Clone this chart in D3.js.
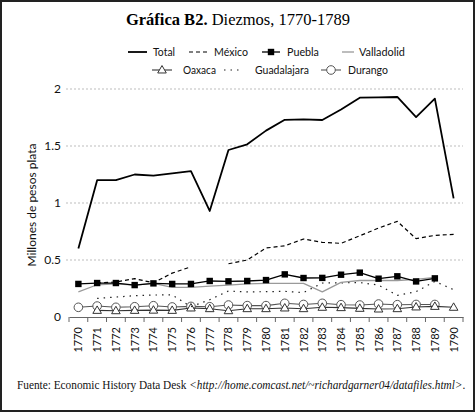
<!doctype html>
<html lang="es">
<head>
<meta charset="utf-8">
<title>Gráfica B2</title>
<script src="https://cdn.jsdelivr.net/npm/d3@7"></script>
<style>
  body { margin: 0; background: #fff; }
  svg { display: block; }
</style>
</head>
<body>
<svg id="chart" width="476" height="413"></svg>
<script>
// years on the x axis
const years = d3.range(1770, 1791).map(String);

// values in millones de pesos plata (null = no data)
const total       = [0.60, 1.20, 1.20, 1.25, 1.24, 1.26, 1.28, 0.93, 1.465, 1.515, 1.635, 1.73, 1.733, 1.728, 1.82, 1.924, 1.926, 1.93, 1.754, 1.915, 1.04];
const mexico      = [null, 0.298, 0.307, 0.336, 0.30, 0.385, 0.44, null, 0.467, 0.50, 0.605, 0.625, 0.684, 0.655, 0.646, 0.713, 0.78, 0.839, 0.687, 0.716, 0.725];
const puebla      = [0.29, 0.298, 0.298, 0.28, 0.295, 0.29, 0.29, 0.316, 0.313, 0.316, 0.324, 0.374, 0.342, 0.343, 0.371, 0.389, 0.336, 0.357, 0.312, 0.339, null];
const valladolid  = [0.22, 0.283, 0.29, 0.28, 0.295, 0.26, 0.26, 0.27, 0.28, 0.29, 0.295, 0.295, 0.295, 0.22, 0.304, 0.32, 0.32, 0.32, 0.33, 0.347, null];
const oaxaca      = [null, 0.058, 0.055, 0.058, 0.06, 0.058, 0.079, 0.073, 0.055, 0.073, 0.073, 0.079, 0.073, 0.085, 0.082, 0.076, 0.07, 0.073, 0.088, 0.093, 0.085];
const guadalajara = [null, 0.163, 0.175, 0.187, 0.193, 0.194, 0.09, 0.152, 0.228, 0.22, 0.222, 0.225, 0.214, 0.298, 0.30, 0.302, 0.28, 0.19, 0.222, 0.312, 0.24];
const durango     = [0.085, 0.096, 0.085, 0.09, 0.099, 0.088, 0.093, 0.09, 0.105, 0.10, 0.10, 0.12, 0.11, 0.12, 0.108, 0.105, 0.114, 0.108, 0.11, 0.11, null];

const yTicks = [0, 0.5, 1, 1.5, 2];
const yTickLabels = ["0", "0.5", "1", "1.5", "2"];

const series = [
  { name: "Total",       values: total,       stroke: "#000", width: 1.8, dash: null,  marker: null },
  { name: "México",      values: mexico,      stroke: "#000", width: 1.2, dash: "4,3", marker: null },
  { name: "Puebla",      values: puebla,      stroke: "#000", width: 1.3, dash: null,  marker: "square" },
  { name: "Valladolid",  values: valladolid,  stroke: "#9a9a9a", width: 1.3, dash: null, marker: null },
  { name: "Oaxaca",      values: oaxaca,      stroke: "#333", width: 1.1, dash: null,  marker: "triangle" },
  { name: "Guadalajara", values: guadalajara, stroke: "#222", width: 1.2, dash: "1.5,5", marker: null },
  { name: "Durango",     values: durango,     stroke: "#555", width: 1.1, dash: null,  marker: "circle" }
];

const svg = d3.select("#chart");
const W = 476, H = 413;
const margin = { top: 89, right: 13, bottom: 96, left: 69 };
const sans = "Lato, 'Open Sans', sans-serif";
const serif = "'Liberation Serif', 'Times New Roman', serif";

// squeeze a text horizontally so it fits a given width
function fitWidth(sel, x0, y0, maxW) {
  const w = sel.node().getComputedTextLength();
  const k = w > maxW ? maxW / w : 1;
  sel.attr("x", 0).attr("y", 0).attr("transform", `translate(${x0},${y0}) scale(${k},1)`);
}

// frame
svg.append("rect")
  .attr("x", 1).attr("y", 1).attr("width", W - 3).attr("height", H - 3)
  .attr("fill", "#fff").attr("stroke", "#222").attr("stroke-width", 2);

const x = d3.scaleBand().domain(years).range([margin.left, W - margin.right]);
const y = d3.scaleLinear().domain([0, 2]).range([H - margin.bottom, margin.top]);
const cx = d => x(d) + x.bandwidth() / 2;

// title
const title = svg.append("text")
  .attr("x", 238).attr("y", 25)
  .attr("text-anchor", "middle")
  .attr("font-family", serif)
  .attr("font-size", 16.5);
title.append("tspan").attr("font-weight", "bold").text("Gráfica B2.");
title.append("tspan").text(" Diezmos, 1770-1789");

// grid lines
svg.append("g")
  .selectAll("line")
  .data(yTicks.slice(1))
  .join("line")
  .attr("x1", margin.left - 3).attr("x2", W - margin.right)
  .attr("y1", d => y(d)).attr("y2", d => y(d))
  .attr("stroke", "#bdbdbd").attr("stroke-width", 1)
  .attr("stroke-dasharray", "2,2");

// y axis labels
svg.append("g")
  .selectAll("text")
  .data(yTicks)
  .join("text")
  .attr("x", 61).attr("y", d => y(d) + 4)
  .attr("text-anchor", "end")
  .attr("font-family", sans)
  .attr("font-size", 12)
  .attr("fill", "#111")
  .text((d, i) => yTickLabels[i]);

svg.append("text")
  .attr("transform", "translate(36,205) rotate(-90)")
  .attr("text-anchor", "middle")
  .attr("font-family", sans)
  .attr("font-size", 12)
  .attr("fill", "#111")
  .text("Millones de pesos plata");

// x axis
const xAxis = svg.append("g")
  .attr("transform", `translate(0,${y(0)})`)
  .call(d3.axisBottom(x).tickSize(0).tickFormat(""));
xAxis.select(".domain").attr("stroke", "#666").attr("stroke-width", 1);
xAxis.append("g")
  .selectAll("line")
  .data(years.concat(["end"]))
  .join("line")
  .attr("x1", (d, i) => i < years.length ? x(d) : x.range()[1])
  .attr("x2", (d, i) => i < years.length ? x(d) : x.range()[1])
  .attr("y1", 0).attr("y2", 5)
  .attr("stroke", "#666");

svg.append("g")
  .selectAll("text")
  .data(years)
  .join("text")
  .attr("transform", d => `translate(${cx(d) + 4},${y(0) + 10}) rotate(-90)`)
  .attr("text-anchor", "end")
  .attr("font-family", sans)
  .attr("font-size", 11)
  .attr("fill", "#111")
  .text(d => d);

// series
const line = d3.line()
  .defined(d => d.v != null)
  .x(d => cx(d.year))
  .y(d => y(d.v));

const triangle = d3.symbol().type(d3.symbolTriangle).size(32);

function drawMarker(g, s, px, py) {
  if (s.marker === "square") {
    g.append("rect").attr("x", px - 3.2).attr("y", py - 3.2).attr("width", 6.4).attr("height", 6.4)
      .attr("fill", "#000");
  } else if (s.marker === "triangle") {
    g.append("path").attr("d", triangle()).attr("transform", `translate(${px},${py + 0.5})`)
      .attr("fill", "#fff").attr("stroke", s.stroke).attr("stroke-width", 1);
  } else if (s.marker === "circle") {
    g.append("circle").attr("cx", px).attr("cy", py).attr("r", 4.3)
      .attr("fill", "#fff").attr("stroke", s.stroke).attr("stroke-width", 1);
  }
}

// draw in an order so the main lines stay on top
const drawOrder = ["Durango", "Oaxaca", "Guadalajara", "Valladolid", "Puebla", "México", "Total"];
drawOrder.forEach(name => {
  const s = series.find(d => d.name === name);
  const pts = years.map((yr, i) => ({ year: yr, v: s.values[i] }));
  const g = svg.append("g");
  g.append("path")
    .attr("d", line(pts))
    .attr("fill", "none")
    .attr("stroke", s.stroke)
    .attr("stroke-width", s.width)
    .attr("stroke-dasharray", s.dash)
    .attr("stroke-linejoin", "round");
  pts.filter(p => p.v != null).forEach(p => drawMarker(g, s, cx(p.year), y(p.v)));
});

// legend: line start, line length, text start, text width
const legendItems = [
  { name: "Total",       lx: 128, len: 19, ly: 52, tx: 153, tw: 22 },
  { name: "México",      lx: 189, len: 20, ly: 52, tx: 214, tw: 34 },
  { name: "Puebla",      lx: 262, len: 18, ly: 52, tx: 287, tw: 32 },
  { name: "Valladolid",  lx: 342, len: 12, ly: 52, tx: 359, tw: 46 },
  { name: "Oaxaca",      lx: 152, len: 20, ly: 70, tx: 183, tw: 33 },
  { name: "Guadalajara", lx: 224, len: 18, ly: 70, tx: 255, tw: 54 },
  { name: "Durango",     lx: 321, len: 20, ly: 70, tx: 348, tw: 40 }
];
const legend = svg.append("g");
legendItems.forEach(it => {
  const s = series.find(d => d.name === it.name);
  legend.append("line")
    .attr("x1", it.lx).attr("x2", it.lx + it.len)
    .attr("y1", it.ly).attr("y2", it.ly)
    .attr("stroke", s.stroke).attr("stroke-width", s.width)
    .attr("stroke-dasharray", s.dash);
  drawMarker(legend, s, it.lx + it.len / 2, it.ly);
  const t = legend.append("text")
    .attr("font-family", sans)
    .attr("font-size", 12)
    .attr("fill", "#111")
    .text(it.name);
  fitWidth(t, it.tx, it.ly + 4, it.tw);
});

// source
const src = svg.append("text")
  .attr("font-family", serif)
  .attr("font-size", 12)
  .attr("fill", "#111");
src.append("tspan").text("Fuente: Economic History Data Desk ");
src.append("tspan").attr("font-style", "italic").text("<http://home.comcast.net/~richardgarner04/datafiles.html>");
src.append("tspan").text(".");
fitWidth(src, 17, 389, 449);
</script>
</body>
</html>
